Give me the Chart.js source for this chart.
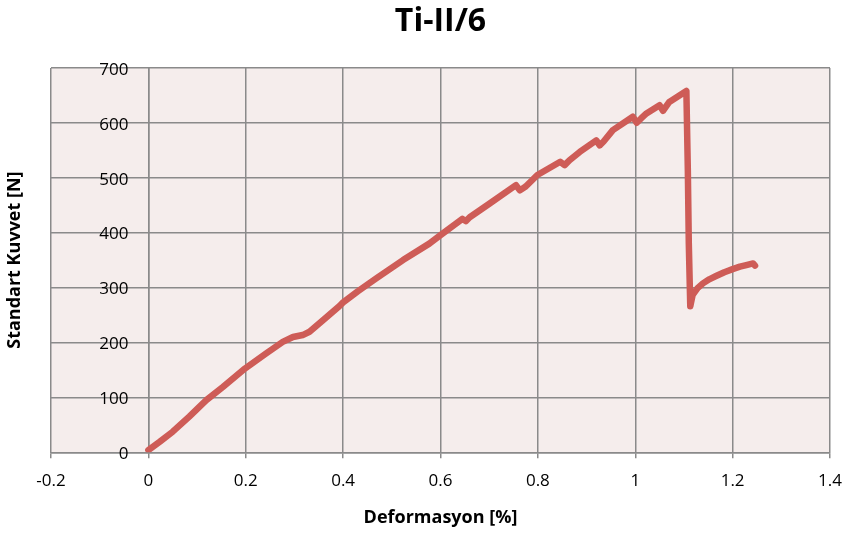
<!DOCTYPE html>
<html>
<head>
<meta charset="utf-8">
<script src="https://cdn.jsdelivr.net/npm/chart.js@4.4.1/dist/chart.umd.min.js"></script>
<style>
  html, body { margin: 0; padding: 0; background: #ffffff; }
  #wrap { width: 856px; height: 535px; }
</style>
</head>
<body>
<div id="wrap"><canvas id="my_line_chart" width="856" height="535"></canvas></div>
<script>
// Ti-II/6 : deformation (%) vs. force (N)
var strain = [0, 0.023, 0.05, 0.084, 0.119, 0.153, 0.199, 0.242, 0.276, 0.297, 0.317, 0.331, 0.358, 0.392,
    0.4, 0.43, 0.468, 0.523, 0.577, 0.6, 0.645, 0.652, 0.66, 0.701, 0.755, 0.763, 0.775, 0.799, 0.846,
    0.855, 0.865, 0.886, 0.92, 0.927, 0.935, 0.954, 0.995, 1.003, 1.012, 1.023, 1.05, 1.057, 1.07,
    1.105, 1.108, 1.11, 1.113, 1.118, 1.128, 1.139, 1.152, 1.166, 1.183, 1.2, 1.215, 1.228, 1.242, 1.246];
var force = [4, 19, 37.5, 65, 95, 119, 153, 180, 201, 210, 213.5, 219.5, 240, 266,
    273, 293, 316.7, 350, 380, 395.5, 425, 421, 428, 453, 486.5, 477, 484, 505, 529,
    523, 532, 547, 568, 559, 566, 586.6, 611, 600, 608, 617, 632, 622, 638,
    658, 514, 380, 266, 287, 299, 307.6, 315, 321, 328, 333.6, 338, 341, 344, 340];

var xTicks = [-0.2, 0, 0.2, 0.4, 0.6, 0.8, 1, 1.2, 1.4];
var yTicks = [0, 100, 200, 300, 400, 500, 600, 700];

var FONT = "'Open Sans', 'DejaVu Sans', sans-serif";

var points = strain.map(function (v, i) { return { x: v, y: force[i] }; });

var plotBg = {
    id: 'plotBg',
    beforeDraw: function (chart) {
        var a = chart.chartArea, ctx = chart.ctx;
        ctx.save();
        ctx.fillStyle = '#F5EDEC';
        ctx.fillRect(a.left, a.top, a.right - a.left, a.bottom - a.top);
        ctx.restore();
    },
    afterDraw: function (chart) {
        var a = chart.chartArea, ctx = chart.ctx;
        var xs = chart.scales.x, ys = chart.scales.y;
        // y tick labels sit left of the x = 0 axis
        ctx.save();
        ctx.font = "17px " + FONT;
        ctx.fillStyle = '#000';
        ctx.textAlign = 'right';
        ctx.textBaseline = 'middle';
        var ax = xs.getPixelForValue(0) - 20;
        yTicks.forEach(function (v) {
            ctx.fillText(String(v), ax, ys.getPixelForValue(v) + 2);
        });
        ctx.restore();

        ctx.save();
        ctx.translate(15, (a.top + a.bottom) / 2);
        ctx.rotate(-Math.PI / 2);
        ctx.font = "bold 18px " + FONT;
        ctx.fillStyle = '#000';
        ctx.textAlign = 'center';
        ctx.textBaseline = 'middle';
        ctx.fillText('Standart Kuvvet [N]', 0, 0);
        ctx.restore();
    }
};

new Chart(document.getElementById("my_line_chart").getContext("2d"), {
    type: 'scatter',
    data: {
        datasets: [{
            label: 'Ti-II/6',
            data: points,
            showLine: true,
            borderColor: '#CE5C57',
            backgroundColor: '#CE5C57',
            borderWidth: 6.5,
            borderCapStyle: 'round',
            borderJoinStyle: 'round',
            pointRadius: 0,
            tension: 0
        }]
    },
    options: {
        responsive: false,
        animation: false,
        layout: { padding: { left: 51, right: 26, top: 0, bottom: 0 } },
        plugins: {
            legend: { display: false },
            tooltip: { enabled: false },
            title: {
                display: true,
                text: 'Ti-II/6',
                color: '#000',
                font: { family: FONT, size: 32, weight: 'bold' },
                padding: { top: 3, bottom: 26.5 }
            }
        },
        scales: {
            x: {
                type: 'linear',
                min: xTicks[0],
                max: xTicks[xTicks.length - 1],
                afterFit: function (s) { s.height = 82.7; },
                afterBuildTicks: function (s) { s.ticks = xTicks.map(function (v) { return { value: v }; }); },
                ticks: {
                    color: '#000',
                    font: { family: FONT, size: 17 },
                    padding: 13,
                    maxRotation: 0,
                    callback: function (v) { return String(Math.round(v * 10) / 10); }
                },
                grid: { color: '#8A8A8A', lineWidth: 1.5, tickLength: 6 },
                border: { color: '#8A8A8A', width: 1.5 },
                title: {
                    display: true,
                    text: 'Deformasyon [%]',
                    color: '#000',
                    font: { family: FONT, size: 18, weight: 'bold' },
                    padding: { top: 0, bottom: 6.2 }
                }
            },
            y: {
                type: 'linear',
                position: { x: 0 },
                min: yTicks[0],
                max: yTicks[yTicks.length - 1],
                afterFit: function (s) { s.width = 0; },
                afterBuildTicks: function (s) { s.ticks = yTicks.map(function (v) { return { value: v }; }); },
                ticks: { display: false },
                grid: { color: '#8A8A8A', lineWidth: 1.5, drawTicks: false },
                border: { color: '#8A8A8A', width: 1.5 }
            }
        }
    },
    plugins: [plotBg]
});
</script>
</body>
</html>
